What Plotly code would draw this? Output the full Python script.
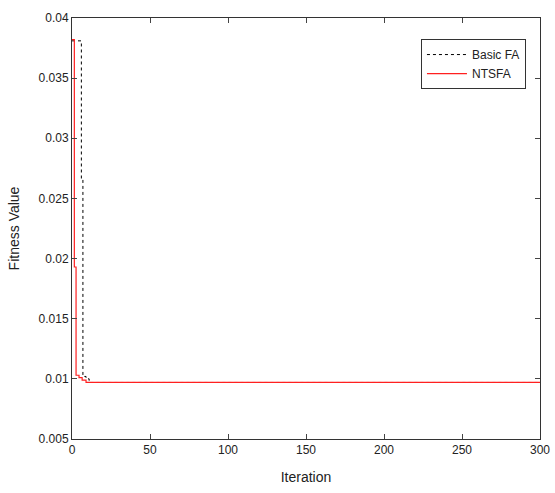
import plotly.graph_objects as go

# Basic FA convergence (step curve)
fa_iter = [0, 6, 7, 9, 11, 300]
fa_fit = [0.0381, 0.0266, 0.0102, 0.0100, 0.0097, 0.0097]

# NTSFA convergence (step curve)
ntsfa_iter = [0, 1.5, 2.6, 4.5, 6.5, 9, 300]
ntsfa_fit = [0.0382, 0.0193, 0.0103, 0.0101, 0.0099, 0.0097, 0.0097]

x_ticks = [0, 50, 100, 150, 200, 250, 300]
y_ticks = [0.005, 0.01, 0.015, 0.02, 0.025, 0.03, 0.035, 0.04]
y_tick_text = ["0.005", "0.01", "0.015", "0.02", "0.025", "0.03", "0.035", "0.04"]

fig = go.Figure()
fig.add_trace(go.Scatter(x=fa_iter, y=fa_fit, mode="lines", name="Basic FA",
                         line=dict(color="black", width=1, dash="dot", shape="hv")))
fig.add_trace(go.Scatter(x=ntsfa_iter, y=ntsfa_fit, mode="lines", name="NTSFA",
                         line=dict(color="#ff2020", width=1.2, shape="hv")))

font = dict(family="Liberation Sans, Arial, sans-serif", size=12, color="#222")
fig.update_layout(
    width=555, height=493,
    margin=dict(l=72, r=15, t=18, b=54),
    paper_bgcolor="white", plot_bgcolor="white",
    font=font,
    showlegend=True,
    legend=dict(x=0.97, y=0.95, xanchor="right", yanchor="top",
                bordercolor="#333", borderwidth=1, bgcolor="white",
                font=dict(size=12), tracegroupgap=0, itemwidth=40),
    xaxis=dict(range=[0, 300], tickvals=x_ticks, ticks="inside", ticklen=5,
               showline=True, linecolor="#333", linewidth=1, mirror="ticks",
               showgrid=False, zeroline=False, automargin=False,
               title=dict(text="Iteration")),
    yaxis=dict(range=[0.005, 0.04], tickvals=y_ticks, ticktext=y_tick_text,
               ticks="inside", ticklen=5,
               showline=True, linecolor="#333", linewidth=1, mirror="ticks",
               showgrid=False, zeroline=False, automargin=False,
               title=dict(text="Fitness Value")),
)
fig.write_html("out.html", config={"displayModeBar": False},
               post_script="document.body.style.margin='0';")
